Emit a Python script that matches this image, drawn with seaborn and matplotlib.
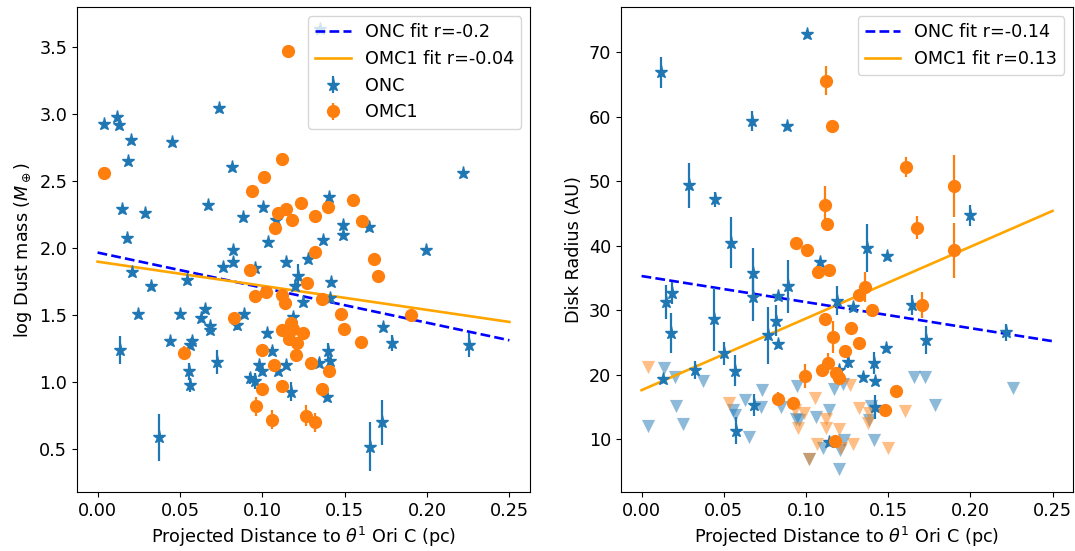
import matplotlib
matplotlib.use("Agg")
import matplotlib.pyplot as plt
import seaborn as sns

plt.rcParams['font.size'] = 12.7
plt.rcParams['lines.linewidth'] = 1.6

# ---- left panel: log dust mass (ONC stars) ----
onc_d = [0.004, 0.0115, 0.013, 0.020, 0.0186, 0.045, 0.0737, 0.0149, 0.029, 0.018,
         0.021, 0.0325, 0.0248, 0.0137, 0.0814, 0.067, 0.088, 0.1004, 0.1036, 0.0822,
         0.0822, 0.0764, 0.054, 0.0953, 0.1145, 0.0503, 0.0438, 0.0652, 0.063, 0.0685,
         0.068, 0.0572, 0.0564, 0.0555, 0.0564, 0.0725, 0.0887, 0.0846, 0.1028, 0.1058,
         0.0923, 0.0953, 0.098, 0.0999, 0.1145, 0.1095, 0.1176, 0.1186, 0.1196, 0.1216,
         0.0372, 0.1408, 0.149, 0.1488, 0.165, 0.1367, 0.1994, 0.128, 0.1418, 0.125,
         0.1414, 0.173, 0.1785, 0.140, 0.1414, 0.1343, 0.139, 0.1725, 0.1656, 0.2256,
         0.2216, 0.135, 0.1085]
onc_mass = [2.93, 2.98, 2.92, 2.81, 2.65, 2.79, 3.05, 2.29, 2.26, 2.08,
            1.82, 1.72, 1.51, 1.24, 2.61, 2.32, 2.23, 2.31, 2.05, 1.99,
            1.90, 1.86, 1.76, 1.85, 1.90, 1.51, 1.31, 1.55, 1.48, 1.42,
            1.39, 1.31, 1.28, 1.08, 0.98, 1.15, 1.51, 1.43, 1.37, 1.23,
            1.03, 1.01, 1.13, 1.08, 1.13, 1.08, 0.93, 1.49, 1.72, 1.79,
            0.59, 2.38, 2.17, 2.10, 2.16, 2.06, 1.99, 1.92, 1.75, 1.60,
            1.63, 1.41, 1.29, 1.23, 1.16, 1.14, 0.89, 0.70, 0.52, 1.28,
            2.56, 3.64, 2.21]
onc_mass_err = [0.02, 0.02, 0.02, 0.02, 0.02, 0.02, 0.02, 0.02, 0.02, 0.02,
                0.02, 0.02, 0.02, 0.105, 0.02, 0.02, 0.02, 0.02, 0.02, 0.02,
                0.02, 0.02, 0.02, 0.02, 0.02, 0.02, 0.02, 0.02, 0.02, 0.02,
                0.02, 0.03, 0.03, 0.06, 0.05, 0.09, 0.02, 0.04, 0.02, 0.03,
                0.04, 0.06, 0.02, 0.02, 0.02, 0.02, 0.07, 0.02, 0.02, 0.09,
                0.175, 0.02, 0.02, 0.02, 0.02, 0.02, 0.02, 0.02, 0.02, 0.02,
                0.02, 0.02, 0.06, 0.06, 0.03, 0.03, 0.03, 0.17, 0.18, 0.09,
                0.02, 0.02, 0.02]

# ---- left panel: log dust mass (OMC1 circles) ----
omc_d = [0.0038, 0.1155, 0.1121, 0.1008, 0.0937, 0.1095, 0.1141, 0.118, 0.1075, 0.1236,
         0.1323, 0.1398, 0.155, 0.1604, 0.1323, 0.1676, 0.1705, 0.127, 0.1361, 0.1479,
         0.1495, 0.1903, 0.16, 0.0923, 0.0953, 0.1024, 0.1121, 0.1135, 0.0826, 0.0523,
         0.1121, 0.1176, 0.1186, 0.125, 0.1165, 0.121, 0.1206, 0.0998, 0.107, 0.1293,
         0.1404, 0.0998, 0.1121, 0.1364, 0.0959, 0.1058, 0.1267, 0.1321]
omc_mass = [2.56, 3.47, 2.67, 2.53, 2.43, 2.26, 2.29, 2.21, 2.15, 2.34,
            2.24, 2.31, 2.36, 2.20, 1.97, 1.92, 1.79, 1.74, 1.62, 1.51,
            1.40, 1.50, 1.30, 1.84, 1.64, 1.67, 1.65, 1.59, 1.48, 1.22,
            1.39, 1.44, 1.40, 1.37, 1.32, 1.29, 1.20, 1.24, 1.13, 1.14,
            1.08, 0.95, 0.97, 0.95, 0.82, 0.72, 0.75, 0.70]
omc_mass_err = [0.02, 0.02, 0.02, 0.02, 0.02, 0.02, 0.02, 0.02, 0.02, 0.02,
                0.02, 0.02, 0.02, 0.02, 0.02, 0.02, 0.02, 0.02, 0.02, 0.02,
                0.02, 0.02, 0.04, 0.02, 0.02, 0.02, 0.02, 0.02, 0.02, 0.05,
                0.02, 0.02, 0.02, 0.02, 0.02, 0.02, 0.02, 0.02, 0.02, 0.02,
                0.02, 0.03, 0.02, 0.04, 0.07, 0.07, 0.08, 0.07]

# ---- right panel: disk radius (ONC stars) ----
onc_rd = [0.0117, 0.1007, 0.0671, 0.0882, 0.0289, 0.0449, 0.0542, 0.0677, 0.0677, 0.089,
          0.0829, 0.0815, 0.0829, 0.0768, 0.0147, 0.0184, 0.0176, 0.0439, 0.0501, 0.0566,
          0.0328, 0.0131, 0.0681, 0.0572, 0.1371, 0.1493, 0.1086, 0.1189, 0.1284, 0.1648,
          0.1729, 0.1487, 0.1254, 0.1411, 0.1349, 0.142, 0.1199, 0.142, 0.1143, 0.2218,
          0.1995]
onc_radius = [66.9, 72.9, 59.3, 58.5, 49.4, 47.2, 40.5, 35.7, 32.0, 33.7,
              32.2, 28.4, 24.8, 26.1, 31.3, 32.7, 26.4, 28.6, 23.3, 20.6,
              20.8, 19.3, 15.3, 11.3, 39.6, 38.4, 37.4, 31.5, 30.5, 30.8,
              25.4, 24.1, 22.0, 21.8, 19.7, 19.0, 20.7, 15.0, 9.6, 26.6,
              44.7]
onc_radius_err = [2.4, 0.5, 1.55, 0.5, 3.5, 1.2, 4.0, 4.0, 3.6, 4.1,
                  0.5, 2.4, 0.5, 4.4, 2.6, 1.7, 3.1, 4.9, 1.8, 2.4,
                  1.4, 0.5, 1.7, 2.1, 3.7, 0.5, 0.5, 2.3, 0.5, 1.6,
                  2.2, 0.5, 1.0, 1.7, 0.5, 0.5, 0.5, 1.8, 0.5, 1.3,
                  1.6]

# ---- right panel: disk radius (OMC1 circles) ----
omc_rd = [0.1122, 0.1157, 0.1118, 0.1126, 0.0938, 0.1007, 0.1072, 0.1139, 0.1901, 0.1901,
          0.1678, 0.1608, 0.1362, 0.1325, 0.140, 0.1705, 0.1118, 0.1272, 0.1163, 0.132,
          0.124, 0.1137, 0.1098, 0.1183, 0.1203, 0.0997, 0.1549, 0.0924, 0.0829, 0.1482,
          0.1179]
omc_radius = [65.6, 58.5, 46.3, 43.4, 40.4, 39.4, 36.0, 36.3, 49.3, 39.3,
              42.8, 52.2, 33.6, 32.3, 30.1, 30.8, 28.7, 27.3, 25.8, 24.9,
              23.7, 21.8, 20.8, 20.3, 19.5, 19.8, 17.5, 15.6, 16.3, 14.6,
              9.7]
omc_radius_err = [2.3, 0.3, 3.0, 0.3, 0.3, 0.3, 0.3, 0.3, 4.8, 4.3,
                  1.8, 1.5, 2.4, 0.3, 0.3, 2.0, 0.3, 0.3, 2.5, 0.3,
                  0.3, 1.5, 0.3, 0.3, 0.3, 1.8, 0.3, 0.3, 1.0, 0.3,
                  0.3]

# ---- right panel: upper limits on radius ----
onc_lim_d = [0.004, 0.0134, 0.0205, 0.0212, 0.025, 0.0372, 0.0556, 0.0566, 0.063, 0.0655,
             0.0734, 0.0728, 0.085, 0.0945, 0.094, 0.096, 0.1062, 0.1143, 0.1173, 0.1226,
             0.1102, 0.1021, 0.1199, 0.1234, 0.1396, 0.1385, 0.1416, 0.1658, 0.1725, 0.1788,
             0.2261, 0.1207]
onc_lim_r = [12.0, 21.0, 19.7, 15.1, 12.4, 19.0, 14.6, 13.7, 16.0, 10.4,
             17.6, 15.0, 15.0, 18.3, 13.1, 12.9, 13.4, 14.5, 17.8, 18.6,
             8.7, 6.9, 5.3, 9.85, 15.1, 13.0, 9.85, 19.7, 19.7, 15.3,
             17.9, 8.3]
omc_lim_d = [0.004, 0.0529, 0.0933, 0.095, 0.099, 0.1057, 0.1122, 0.1122, 0.1203, 0.1067,
             0.1214, 0.1284, 0.1021, 0.1268, 0.1325, 0.1385, 0.1375, 0.1604, 0.1499]
omc_lim_r = [21.2, 15.6, 14.6, 11.7, 14.0, 16.4, 13.2, 11.7, 11.5, 9.3,
             8.6, 9.3, 6.9, 18.4, 14.9, 14.0, 12.5, 14.4, 8.6]

# ---- linear fits (end points) ----
fit_d = [0.0, 0.25]
onc_mass_fit = [1.968, 1.313]
omc_mass_fit = [1.90, 1.45]
onc_radius_fit = [35.3, 25.2]
omc_radius_fit = [17.6, 45.4]

fig = plt.figure(figsize=(10.75, 5.51), dpi=100)
ax1 = fig.add_axes([0.0716, 0.107, 0.4214, 0.880])
ax2 = fig.add_axes([0.5777, 0.107, 0.4205, 0.880])

# left
sns.lineplot(x=fit_d, y=onc_mass_fit, ax=ax1, color='blue', linestyle='--', lw=1.9,
             label='ONC fit r=-0.2')
sns.lineplot(x=fit_d, y=omc_mass_fit, ax=ax1, color='orange', lw=1.9,
             label='OMC1 fit r=-0.04')
ax1.errorbar(onc_d, onc_mass, yerr=onc_mass_err, fmt='*', color='C0', ms=9.5, label='ONC')
ax1.errorbar(omc_d, omc_mass, yerr=omc_mass_err, fmt='o', color='C1', ms=8.5, label='OMC1')
ax1.set_xlim(-0.0125, 0.2625)
ax1.set_ylim(0.18, 3.80)
ax1.set_xticks([0.0, 0.05, 0.10, 0.15, 0.20, 0.25])
ax1.set_yticks([0.5, 1.0, 1.5, 2.0, 2.5, 3.0, 3.5])
ax1.set_xlabel(r'Projected Distance to $\theta^1$ Ori C (pc)')
ax1.set_ylabel(r'log Dust mass ($M_\oplus$)')
ax1.legend(loc='upper right')

# right
sns.lineplot(x=fit_d, y=onc_radius_fit, ax=ax2, color='blue', linestyle='--', lw=1.9,
             label='ONC fit r=-0.14')
sns.lineplot(x=fit_d, y=omc_radius_fit, ax=ax2, color='orange', lw=1.9,
             label='OMC1 fit r=0.13')
sns.scatterplot(x=onc_lim_d, y=onc_lim_r, ax=ax2, marker='v', s=90, color='C0',
                alpha=0.5, linewidth=0, legend=False)
sns.scatterplot(x=omc_lim_d, y=omc_lim_r, ax=ax2, marker='v', s=90, color='C1',
                alpha=0.5, linewidth=0, legend=False)
ax2.errorbar(onc_rd, onc_radius, yerr=onc_radius_err, fmt='*', color='C0', ms=9.5,
             label='_nolegend_')
ax2.errorbar(omc_rd, omc_radius, yerr=omc_radius_err, fmt='o', color='C1', ms=8.5,
             label='_nolegend_')
ax2.set_xlim(-0.0125, 0.2625)
ax2.set_ylim(1.8, 77.0)
ax2.set_xticks([0.0, 0.05, 0.10, 0.15, 0.20, 0.25])
ax2.set_yticks([10, 20, 30, 40, 50, 60, 70])
ax2.set_xlabel(r'Projected Distance to $\theta^1$ Ori C (pc)')
ax2.set_ylabel('Disk Radius (AU)')
ax2.legend(loc='upper right')

fig.savefig('out.png', dpi=100)
